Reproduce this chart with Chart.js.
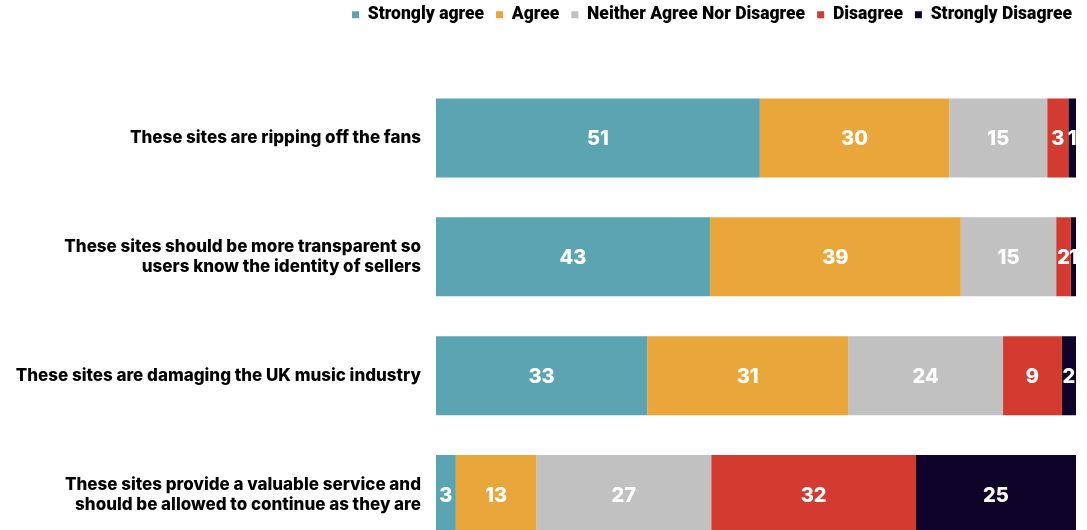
<!DOCTYPE html>
<html>
<head>
<meta charset="utf-8">
<script src="https://cdn.jsdelivr.net/npm/chart.js@4/dist/chart.umd.min.js"></script>
<style>
  html, body { margin: 0; padding: 0; background: #fff; overflow: hidden; }
  #chart { display: block; margin-top: -6px; }
</style>
</head>
<body>
<canvas id="chart" width="1087" height="577"></canvas>
<script>
const categories = [
    'These sites are ripping off the fans',
    ['These sites should be more transparent so', 'users know the identity of sellers'],
    'These sites are damaging the UK music industry',
    ['These sites provide a valuable service and', 'should be allowed to continue as they are']
];

// shares in % (labels show them rounded)
const stronglyAgree    = [50.6, 42.8, 33.0, 3.1];
const agree            = [29.6, 39.2, 31.4, 12.6];
const neither          = [15.3, 14.9, 24.2, 27.3];
const disagree         = [3.3, 2.3, 9.2, 32.0];
const stronglyDisagree = [1.2, 0.8, 2.2, 25.0];

const seriesNames = ['Strongly agree', 'Agree', 'Neither Agree Nor Disagree', 'Disagree', 'Strongly Disagree'];
const seriesColors = ['#5ba5b2', '#e9a73b', '#c1c1c1', '#d43b30', '#10032a'];
const seriesValues = [stronglyAgree, agree, neither, disagree, stronglyDisagree];

const FONT = 'Inter, "Noto Sans", sans-serif';

// white rounded numbers in the middle of each segment
const barLabels = {
    id: 'barLabels',
    afterDatasetsDraw(chart) {
        const ctx = chart.ctx;
        ctx.save();
        ctx.fillStyle = '#fff';
        ctx.font = '800 20px ' + FONT;
        ctx.textAlign = 'center';
        ctx.textBaseline = 'middle';
        chart.data.datasets.forEach((ds, i) => {
            chart.getDatasetMeta(i).data.forEach((bar, j) => {
                const v = Math.round(ds.data[j]);
                const x = (bar.x + bar.base) / 2;
                ctx.fillText(String(v), x, bar.y + 1);
            });
        });
        ctx.restore();
    }
};

// push the bars down, away from the legend, and nudge the legend to the right edge
const legendGap = {
    id: 'legendGap',
    beforeInit(chart) {
        const legend = chart.legend;
        const fit = legend.fit;
        legend.fit = function () {
            fit.call(this);
            this.height += 45;
        };
        const draw = legend.draw;
        legend.draw = function () {
            chart.ctx.save();
            chart.ctx.translate(8, 0);
            draw.call(this);
            chart.ctx.restore();
        };
    }
};

new Chart(document.getElementById('chart').getContext('2d'), {
    type: 'bar',
    data: {
        labels: categories,
        datasets: seriesNames.map((name, i) => ({
            label: name,
            data: seriesValues[i],
            backgroundColor: seriesColors[i],
            borderWidth: 0,
            barPercentage: 0.83,
            categoryPercentage: 0.8
        }))
    },
    options: {
        indexAxis: 'y',
        responsive: false,
        animation: false,
        layout: { padding: { top: 0, right: 11, bottom: 2, left: 0 } },
        scales: {
            x: { stacked: true, min: 0, max: 100, display: false },
            y: {
                stacked: true,
                grid: { display: false },
                border: { display: false },
                ticks: {
                    color: '#000',
                    padding: 7,
                    font: { family: FONT, size: 17, weight: '800', lineHeight: 1.18 }
                },
                afterFit(scale) { scale.width = 436; }
            }
        },
        plugins: {
            legend: {
                position: 'top',
                align: 'end',
                labels: {
                    color: '#000',
                    usePointStyle: true,
                    pointStyle: 'rect',
                    boxWidth: 7,
                    boxHeight: 7,
                    padding: 12,
                    font: { family: 'Roboto, sans-serif', size: 17.5, weight: '900' }
                }
            },
            tooltip: { enabled: false }
        }
    },
    plugins: [barLabels, legendGap]
});
</script>
</body>
</html>
